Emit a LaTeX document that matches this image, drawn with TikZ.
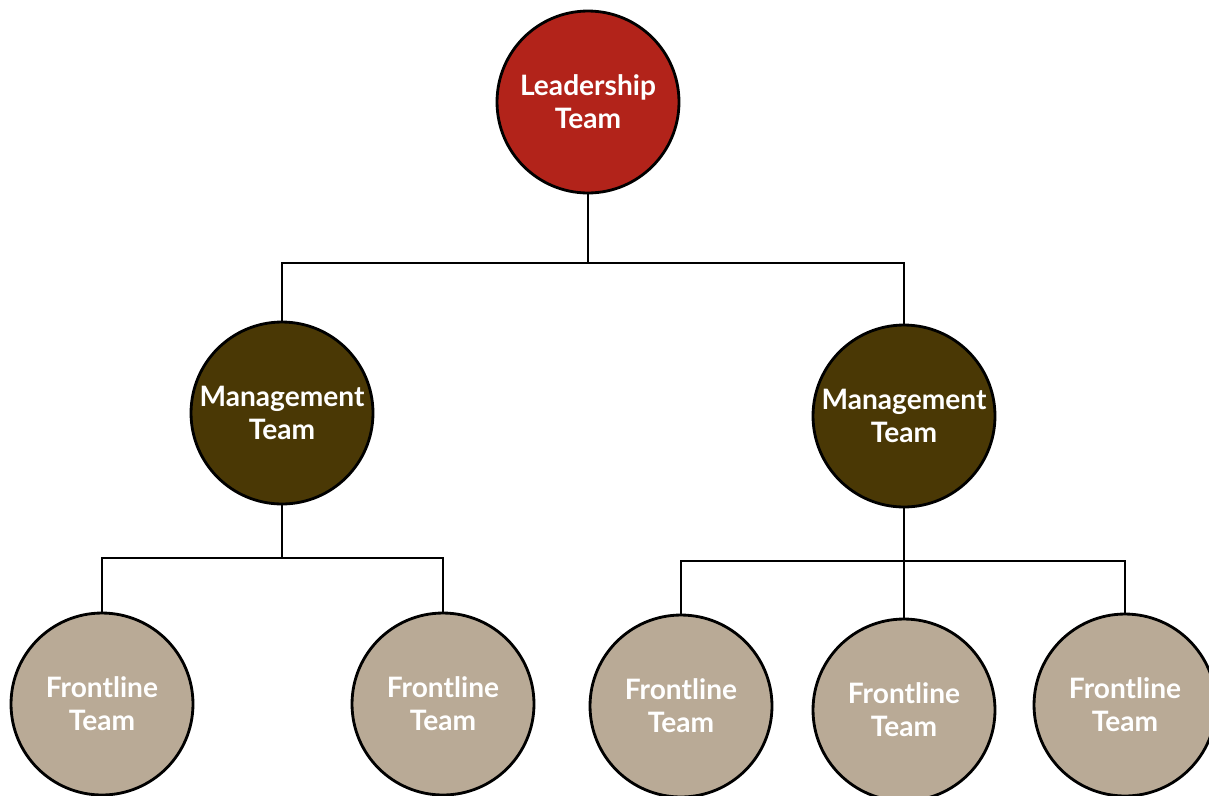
\documentclass[tikz,border=0pt]{standalone}
\usepackage{fontspec}
\setmainfont{Lato}
\usepackage{tikz}

\definecolor{leadRed}{RGB}{178,35,26}
\definecolor{mgrBrown}{RGB}{74,56,5}
\definecolor{frontTaupe}{RGB}{185,170,150}

\begin{document}
\begin{tikzpicture}[x=0.02cm,y=-0.02cm,
  team/.style={circle,draw=black,line width=1.6pt,minimum size=3.64cm,inner sep=0pt,
    align=center,text=white,font=\fontsize{16}{18.8}\selectfont\bfseries},
  link/.style={draw=black,line width=1.5pt}]
  % Page frame
  \useasboundingbox (0,0) rectangle (1209,795);
  % Bus heights
  \def\yBusTop{263}
  \def\yBusLeft{558}
  \def\yBusRight{561}
  % Top level
  \node[team,fill=leadRed] (lead) at (588,102) {Leadership\\Team};
  % Middle level
  \node[team,fill=mgrBrown] (mgrL) at (282,413) {Management\\Team};
  \node[team,fill=mgrBrown] (mgrR) at (904,416) {Management\\Team};
  % Bottom level
  \foreach \x/\y/\name in {102/704/frontA, 443/704/frontB, 681/706/frontC, 904/710/frontD, 1125/705/frontE}
  {\node[team,fill=frontTaupe] (\name) at (\x,\y) {Frontline\\Team};}
  % Buses
  \coordinate (busTop) at (588,\yBusTop);
  \coordinate (busL) at (282,\yBusLeft);
  \coordinate (busR) at (904,\yBusRight);
  % Connectors
  \draw[link] (lead.south) -- (busTop);
  \draw[link] (mgrL.north) |- (busTop) -| (mgrR.north);
  \draw[link] (mgrL.south) -- (busL);
  \draw[link] (frontA.north) |- (busL) -| (frontB.north);
  \draw[link] (mgrR.south) -- (frontD.north);
  \draw[link] (frontC.north) |- (busR) -| (frontE.north);
\end{tikzpicture}
\end{document}
